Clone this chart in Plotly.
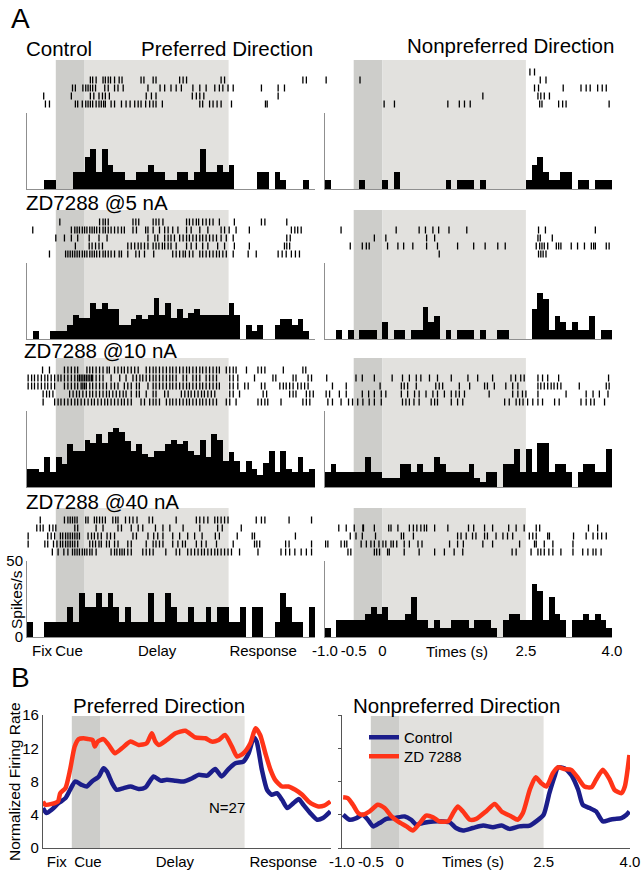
import plotly.graph_objects as go

W, H = 643, 872
FONT = "Liberation Sans, Arial, sans-serif"


def px(x):
    return x / W


def py(y):
    return 1 - y / H


# ---------------- DATA ----------------
# histogram bins: 50 bins of 0.1 s from -1.0 to 4.0 s (spikes/s)
BIN_START, BIN_W, N_BINS = -1.0, 0.1, 50

H_ctrl_pref = [0, 0, 0, 6, 6, 0, 0, 0, 11, 11, 21, 26, 11, 26, 16, 11, 11, 6, 6, 11,
               11, 16, 11, 11, 6, 6, 11, 11, 6, 11, 26, 11, 11, 16, 11, 16, 0, 0, 0, 0,
               11, 11, 0, 11, 6, 0, 0, 0, 6, 0]
H_ctrl_non = [6, 0, 0, 0, 0, 0, 6, 0, 0, 0, 6, 0, 11, 0, 0, 0, 0, 0, 0, 0,
              0, 6, 0, 6, 6, 6, 0, 6, 0, 0, 0, 0, 0, 0, 0, 6, 16, 21, 11, 6,
              6, 11, 11, 0, 6, 6, 0, 6, 6, 6]
H_5_pref = [0, 5, 0, 0, 5, 5, 5, 9, 16, 14, 14, 24, 20, 24, 20, 20, 9, 9, 13, 16,
            13, 16, 27, 16, 24, 14, 20, 14, 17, 20, 16, 16, 16, 16, 16, 24, 16, 0, 9, 5,
            9, 0, 0, 9, 13, 13, 9, 13, 5, 0]
H_5_non = [0, 0, 6, 0, 6, 0, 6, 6, 6, 0, 11, 0, 6, 6, 0, 6, 6, 21, 11, 15,
           0, 6, 0, 6, 6, 6, 0, 6, 0, 0, 6, 6, 0, 0, 0, 0, 20, 30, 26, 6,
           15, 11, 6, 11, 6, 6, 15, 0, 6, 6]
H_10_pref = [12, 12, 10, 20, 10, 20, 15, 28, 24, 24, 31, 29, 35, 29, 36, 39, 36, 30, 24, 28,
             22, 20, 24, 24, 28, 31, 28, 30, 24, 21, 31, 20, 35, 31, 17, 23, 17, 10, 17, 12,
             8, 16, 24, 10, 24, 12, 10, 20, 10, 12]
H_10_non = [10, 15, 10, 10, 10, 10, 10, 20, 10, 10, 6, 6, 6, 15, 15, 10, 15, 10, 10, 20,
            15, 10, 10, 10, 10, 15, 6, 3, 10, 10, 0, 15, 15, 25, 10, 25, 10, 29, 29, 10,
            15, 15, 10, 0, 10, 15, 15, 10, 10, 25]
H_40_pref = [10, 0, 0, 10, 10, 10, 10, 20, 10, 29, 20, 20, 29, 20, 29, 20, 10, 20, 10, 10,
             10, 29, 10, 10, 29, 20, 10, 10, 20, 10, 10, 20, 10, 20, 20, 10, 10, 20, 0, 20,
             20, 0, 0, 10, 29, 20, 10, 10, 0, 20]
H_40_non = [6, 0, 11, 11, 11, 11, 11, 15, 20, 15, 20, 11, 11, 11, 15, 26, 11, 11, 6, 11,
            6, 6, 11, 11, 11, 6, 11, 11, 11, 6, 0, 11, 15, 15, 11, 11, 35, 30, 11, 26,
            15, 11, 0, 11, 11, 15, 11, 15, 11, 6]

# raster spike times (s), one list per trial (top to bottom)
R_ctrl_pref = [
    [],
    [0.10, 0.14, 0.20, 0.32, 0.36, 0.41, 0.45, 0.52, 0.60, 0.65, 0.98, 1.03, 1.19, 1.24, 1.65, 1.71, 1.77,
     2.37, 2.43, 3.79, 3.85],
    [-0.21, -0.16, -0.03, 0.02, 0.06, 0.10, 0.14, 0.19, 0.35, 0.41, 0.52, 0.58, 0.67, 1.10, 1.31, 1.39, 1.50,
     1.59, 1.68, 1.88, 2.00, 2.11, 2.26, 2.34, 2.40, 2.49, 2.58, 3.07, 3.36, 3.47],
    [-0.71, -0.23, 0.10, 0.16, 0.25, 0.31, 0.36, 0.43, 1.07, 1.16, 1.24, 1.87, 1.94, 2.00, 2.07, 3.36],
    [-0.68, -0.61, -0.16, -0.12, -0.04, 0.02, 0.06, 0.10, 0.14, 0.20, 0.25, 0.29, 0.33, 0.36, 0.46, 0.52,
     0.64, 0.72, 0.79, 0.87, 0.93, 0.98, 1.06, 1.13, 1.19, 1.24, 1.35, 2.00, 2.05, 2.17, 2.23, 2.30, 2.37,
     2.55, 3.14, 3.17],
]
R_ctrl_non = [
    [2.57, 2.65],
    [-0.98, -0.39, 2.75, 2.85],
    [2.65, 2.72, 3.15, 3.46, 3.55, 3.62, 3.75, 3.83, 3.90],
    [1.75, 2.71, 2.76, 2.82, 2.91],
    [0.03, 0.21, 1.14, 1.34, 1.43, 1.53, 2.74, 2.78, 3.07, 3.14, 3.20, 3.95],
]
R_5_pref = [
    [-0.43, 0.26, 0.32, 0.36, 0.41, 0.84, 0.89, 0.94, 1.19, 1.24, 1.29, 1.36, 1.77, 1.82, 1.88, 1.94, 1.98,
     2.05, 2.11, 2.17, 2.23, 2.34, 2.60, 3.07, 3.13, 3.51],
    [-0.90, -0.23, -0.17, -0.13, -0.09, -0.04, 0.00, 0.04, 0.09, 0.13, 0.17, 0.21, 0.26, 0.32, 0.36, 0.41,
     0.46, 0.52, 0.58, 0.64, 0.69, 0.84, 0.90, 1.06, 1.10, 1.19, 1.30, 1.39, 1.45, 1.53, 1.62, 1.77, 1.85,
     2.00, 2.14, 2.37, 2.43, 2.51, 2.63, 2.86, 3.59, 3.65, 3.70, 3.76],
    [-0.50, -0.35, -0.23, -0.12, 0.08, 0.25, 0.39, 1.10, 1.22, 1.27, 1.39, 1.45, 1.50, 1.56, 1.65, 1.71,
     1.77, 1.82, 1.88, 1.94, 2.00, 2.05, 2.11, 2.17, 2.23, 2.29, 2.37, 2.46, 2.58, 3.51, 3.57],
    [-0.16, 0.08, 0.13, 0.19, 0.25, 0.31, 0.75, 0.81, 0.87, 0.93, 0.98, 1.04, 1.10, 1.19, 1.24, 1.29, 1.35,
     1.39, 1.45, 1.50, 1.59, 1.77, 1.85, 1.94, 2.05, 2.14, 2.31, 2.43, 2.60, 2.86, 3.47, 3.51, 3.56],
    [-0.61, -0.33, -0.29, -0.25, -0.21, -0.17, -0.13, -0.09, -0.04, 0.00, 0.04, 0.09, 0.13, 0.17, 0.21,
     0.26, 0.32, 0.36, 0.41, 0.46, 0.52, 0.60, 0.64, 0.75, 0.89, 0.95, 1.04, 1.20, 1.53, 1.59, 1.65, 1.71,
     1.75, 1.82, 1.88, 2.00, 2.05, 2.11, 2.17, 2.23, 2.29, 2.34, 2.40, 2.46, 2.58, 2.84, 2.98, 3.36, 3.43,
     3.50, 3.59, 3.66, 3.73],
]
R_5_non = [
    [],
    [-0.72, 0.24, 0.64, 0.75, 0.88, 0.98, 1.16, 1.47, 2.72, 2.84, 3.71],
    [-0.14, 0.06, 0.77, 0.91, 2.71, 2.75, 2.96],
    [-0.56, -0.35, -0.28, -0.23, 0.09, 0.27, 0.37, 0.53, 0.77, 0.96, 1.31, 1.59, 1.79, 2.01, 2.14, 2.68,
     2.74, 2.78, 2.82, 2.88, 3.03, 3.07, 3.11, 3.29, 3.40, 3.52, 3.64, 3.68, 3.71, 3.90, 3.95],
    [0.99, 2.72, 2.76, 2.80, 2.85],
]
R_10_pref = [
    [-0.73, -0.61, -0.35, -0.29, -0.23, -0.17, -0.12, 0.04, 0.09, 0.14, 0.20, 0.26, 0.32, 0.39, 0.43, 0.52,
     0.58, 0.64, 0.69, 0.75, 0.81, 0.87, 0.93, 1.07, 1.13, 1.19, 1.24, 1.30, 1.36, 1.42, 1.48, 1.53, 1.59,
     1.65, 1.71, 1.77, 1.82, 1.88, 1.94, 2.00, 2.05, 2.11, 2.17, 2.23, 2.29, 2.34, 2.46, 2.52, 2.58, 2.63,
     2.81, 3.01, 3.07, 3.13, 3.45, 3.79, 3.84],
    [-0.98, -0.92, -0.87, -0.81, -0.75, -0.69, -0.64, -0.58, -0.52, -0.46, -0.41, -0.35, -0.29, -0.23,
     -0.17, -0.12, -0.09, -0.06, -0.03, 0.00, 0.03, 0.06, 0.09, 0.12, 0.14, 0.20, 0.26, 0.32, 0.46, 0.61,
     0.72, 0.84, 0.90, 0.96, 1.01, 1.07, 1.13, 1.19, 1.24, 1.30, 1.36, 1.42, 1.48, 1.53, 1.59, 1.71, 1.77,
     1.88, 1.94, 2.00, 2.11, 2.17, 2.23, 2.29, 2.52, 2.58, 2.66, 2.95, 3.27, 3.32, 3.62, 3.67, 3.88, 3.94],
    [-0.98, -0.92, -0.87, -0.81, -0.75, -0.69, -0.64, -0.58, -0.52, -0.35, -0.29, -0.23, -0.17, -0.12,
     -0.06, -0.03, 0.00, 0.03, 0.09, 0.14, 0.20, 0.26, 0.32, 0.38, 0.46, 0.52, 0.58, 0.69, 0.75, 0.81, 0.90,
     0.95, 1.10, 1.19, 1.24, 1.30, 1.36, 1.42, 1.48, 1.53, 1.59, 1.65, 1.71, 1.77, 1.82, 1.88, 1.94, 2.00,
     2.05, 2.11, 2.17, 2.23, 2.29, 2.34, 2.52, 2.58, 2.66, 2.78, 2.84, 3.07, 3.13, 3.39, 3.45, 3.50, 3.56,
     3.62, 3.70, 3.76, 3.82, 3.88],
    [-0.72, -0.66, -0.61, -0.55, -0.26, -0.20, -0.14, -0.09, -0.03, 0.03, 0.09, 0.14, 0.20, 0.26, 0.32,
     0.38, 0.43, 0.49, 0.55, 0.61, 0.67, 0.72, 0.81, 0.90, 0.95, 1.07, 1.19, 1.24, 1.39, 1.45, 1.68, 1.74,
     1.80, 1.85, 1.91, 1.97, 2.03, 2.08, 2.14, 2.20, 2.26, 2.52, 2.58, 2.69, 3.10, 3.16, 3.56, 3.62, 3.67,
     3.85, 3.91, 3.97],
    [-0.72, -0.52, -0.46, -0.41, -0.35, -0.29, -0.23, -0.17, -0.12, -0.06, 0.00, 0.06, 0.12, 0.17, 0.23,
     0.29, 0.35, 0.40, 0.46, 0.52, 0.58, 0.64, 0.69, 0.75, 0.81, 0.98, 1.04, 1.13, 1.19, 1.24, 1.30, 1.42,
     1.48, 1.53, 1.59, 1.65, 1.71, 1.77, 1.82, 1.88, 1.94, 2.00, 2.05, 2.11, 2.17, 2.23, 2.29, 2.46, 2.52,
     2.63, 3.01, 3.07, 3.13, 3.18, 3.41, 3.79, 3.85, 3.91],
]
R_10_non = [
    [],
    [-0.97, -0.46, -0.35, -0.14, 0.17, 0.35, 0.47, 0.59, 0.67, 0.82, 0.96, 1.20, 1.49, 1.66, 1.92, 2.24,
     2.32, 2.41, 2.47, 2.71, 2.79, 2.88, 3.07, 3.94],
    [-0.87, -0.63, -0.04, 0.33, 0.38, 0.44, 0.59, 0.93, 0.99, 1.05, 1.34, 1.52, 1.78, 1.83, 1.95, 2.15,
     2.27, 2.36, 2.71, 2.76, 2.82, 2.88, 2.94, 2.99, 3.05, 3.11, 3.43, 3.90, 3.95],
    [-0.98, -0.92, -0.75, -0.63, -0.35, -0.24, -0.14, -0.02, 0.06, 0.33, 0.44, 0.56, 0.64, 0.76, 0.88,
     0.96, 1.08, 1.20, 1.28, 1.34, 1.43, 1.86, 2.27, 2.36, 2.44, 2.50, 2.71, 3.20, 3.55, 3.67, 3.78, 3.93],
    [-0.95, -0.87, -0.72, -0.59, -0.52, -0.43, -0.34, -0.23, -0.14, -0.02, 0.35, 0.41, 0.47, 0.55, 0.64,
     0.85, 0.91, 0.96, 1.20, 1.31, 1.40, 2.13, 2.21, 2.33, 2.39, 2.45, 2.53, 2.62, 2.71, 2.79, 3.00, 3.08,
     3.46, 3.55, 3.63, 3.69, 3.87],
]
R_40_pref = [
    [-0.77, -0.35, -0.29, -0.25, -0.21, -0.17, -0.13, 0.02, 0.06, 0.17, 0.21, 0.26, 0.31, 0.36, 0.49, 0.54,
     0.58, 0.71, 0.78, 0.84, 0.91, 1.12, 1.18, 1.59, 1.94, 2.00, 2.07, 2.14, 2.26, 2.31, 2.37, 2.43, 2.49,
     2.98, 3.07, 3.13, 3.55, 3.94],
    [-0.83, -0.77, -0.72, -0.61, -0.55, -0.50, -0.17, -0.12, 0.20, 0.32, 0.58, 0.64, 0.81, 0.93, 1.01,
     1.23, 1.36, 1.48, 1.71, 2.00, 2.31, 2.39, 2.72],
    [-0.98, -0.64, -0.58, -0.52, -0.42, -0.38, -0.33, -0.29, -0.25, -0.21, -0.17, -0.13, -0.09, 0.06, 0.12,
     0.17, 0.23, 0.29, 0.39, 0.45, 0.52, 0.84, 0.90, 1.10, 1.20, 1.27, 1.36, 1.53, 1.65, 1.79, 1.91, 2.04,
     2.27, 2.34, 2.65, 2.91, 2.95, 3.66],
    [-0.98, -0.69, -0.64, -0.54, -0.48, -0.42, -0.38, -0.33, -0.29, -0.25, -0.21, -0.17, -0.12, 0.09, 0.14,
     0.19, 0.25, 0.29, 0.38, 0.43, 0.52, 0.58, 0.75, 0.81, 1.07, 1.19, 1.24, 1.30, 1.36, 1.53, 1.62, 1.70,
     1.75, 1.94, 2.03, 2.11, 2.29, 2.58, 2.95, 2.99, 3.04, 3.49, 3.55, 3.94],
    [-0.56, -0.46, -0.36, -0.29, -0.21, -0.17, -0.13, -0.09, -0.04, 0.00, 0.04, 0.09, 0.13, 0.20, 0.46,
     0.52, 0.56, 0.61, 0.65, 0.69, 0.75, 0.81, 1.01, 1.07, 1.13, 1.19, 1.41, 1.59, 1.65, 1.79, 1.85, 1.91,
     1.97, 2.03, 2.08, 2.14, 2.20, 2.26, 2.31, 2.37, 2.43, 2.49, 2.55, 2.69, 3.01, 3.41, 3.49, 3.56, 3.65,
     3.76, 3.85, 3.94],
]
R_40_non = [
    [],
    [-0.76, -0.63, -0.49, -0.34, -0.33, -0.14, 0.11, 0.15, 0.27, 0.47, 0.54, 0.60, 0.67, 0.73, 0.77, 0.91,
     1.14, 1.50, 1.59, 1.78, 1.92, 2.20, 2.33, 2.47, 2.68, 2.74, 3.59, 3.75],
    [-0.56, -0.46, -0.35, -0.12, 0.33, 0.37, 0.54, 1.31, 1.37, 1.46, 1.57, 1.63, 1.78, 1.83, 1.98, 2.10,
     2.18, 2.27, 2.56, 2.62, 2.68, 2.88, 2.91, 3.33, 3.55, 3.67, 3.75, 3.82, 3.90],
    [-0.99, -0.95, -0.72, -0.66, -0.62, -0.37, -0.28, -0.20, -0.14, -0.06, 0.01, 0.06, 0.15, 0.19, 0.25,
     0.38, 0.47, 0.62, 0.69, 1.17, 1.31, 1.41, 1.75, 1.92, 2.39, 2.65, 2.68, 2.82, 2.97, 3.32],
    [-0.60, -0.55, -0.14, -0.10, -0.05, 0.09, 0.12, 0.38, 0.64, 0.91, 1.08, 1.25, 1.40, 2.26, 2.33, 2.59,
     2.71, 2.76, 2.82, 2.90, 2.97, 3.11, 3.32, 3.49, 3.58, 3.67, 3.72, 3.81],
]

# Panel B population curves (time in s, normalized firing rate)
B_pref_ctrl_t = [-1.0, -0.94, -0.85, -0.73, -0.61, -0.53, -0.44, -0.33, -0.24, -0.15, -0.03, 0.05, 0.11,
                 0.20, 0.28, 0.40, 0.52, 0.66, 0.78, 0.92, 1.04, 1.15, 1.30, 1.44, 1.59, 1.70, 1.85, 1.99,
                 2.10, 2.22, 2.34, 2.48, 2.57, 2.66, 2.71, 2.80, 2.89, 2.97, 3.06, 3.15, 3.24, 3.35, 3.44,
                 3.52, 3.64, 3.76, 3.86, 3.99]
B_pref_ctrl_v = [4.8, 4.2, 4.6, 5.4, 6.0, 7.0, 8.0, 7.6, 7.4, 8.0, 8.6, 9.6, 9.2, 7.8, 7.0, 7.2, 7.4, 7.1,
                 7.3, 8.6, 8.1, 8.2, 8.1, 8.0, 8.4, 8.8, 8.7, 9.5, 8.6, 9.5, 10.2, 10.4, 11.4, 13.3, 12.8,
                 9.4, 7.0, 6.4, 6.6, 5.8, 4.8, 5.4, 5.9, 5.2, 4.2, 3.4, 3.6, 4.4]
B_pref_zd_t = [-1.0, -0.96, -0.85, -0.74, -0.70, -0.61, -0.53, -0.45, -0.38, -0.30, -0.21, -0.14, -0.10,
               -0.05, 0.05, 0.14, 0.25, 0.37, 0.52, 0.66, 0.80, 0.89, 0.95, 1.01, 1.15, 1.30, 1.47, 1.64,
               1.82, 1.93, 2.05, 2.16, 2.28, 2.37, 2.48, 2.60, 2.69, 2.77, 2.86, 2.95, 3.03, 3.15, 3.26,
               3.38, 3.50, 3.61, 3.70, 3.78, 3.88, 3.99]
B_pref_zd_v = [5.6, 5.2, 5.3, 5.6, 6.6, 7.2, 9.4, 12.2, 13.1, 13.2, 13.1, 13.0, 12.2, 12.8, 13.1, 12.4,
               11.4, 12.0, 12.8, 12.4, 12.6, 13.8, 12.8, 12.4, 13.0, 13.8, 14.1, 13.3, 13.2, 12.8, 13.0,
               13.6, 12.2, 11.0, 11.4, 12.6, 14.4, 13.6, 11.4, 9.4, 8.2, 7.4, 7.4, 7.0, 6.4, 5.6, 5.2,
               5.0, 5.1, 5.6]
B_non_ctrl_t = [-0.98, -0.87, -0.75, -0.64, -0.55, -0.46, -0.35, -0.23, -0.09, 0.09, 0.20, 0.29, 0.40,
                0.58, 0.75, 0.87, 0.98, 1.10, 1.27, 1.45, 1.62, 1.77, 1.91, 2.08, 2.26, 2.37, 2.50, 2.60,
                2.69, 2.75, 2.86, 2.98, 3.10, 3.18, 3.30, 3.41, 3.53, 3.65, 3.73, 3.85, 3.94, 3.99]
B_non_ctrl_v = [4.0, 3.4, 3.6, 4.0, 3.4, 2.6, 3.0, 3.5, 3.6, 3.8, 3.4, 2.8, 3.0, 3.2, 3.2, 3.1, 2.4, 2.1,
                2.4, 2.7, 2.5, 2.7, 2.3, 2.6, 2.7, 3.2, 4.0, 6.6, 8.6, 9.7, 9.6, 8.8, 7.0, 5.2, 4.8, 4.4,
                3.2, 3.4, 3.5, 3.6, 4.0, 4.4]
B_non_zd_t = [-0.98, -0.90, -0.81, -0.72, -0.64, -0.52, -0.38, -0.26, -0.14, -0.03, 0.12, 0.23, 0.35,
              0.46, 0.58, 0.69, 0.84, 0.93, 1.01, 1.10, 1.22, 1.33, 1.50, 1.65, 1.77, 1.94, 2.05, 2.14,
              2.26, 2.36, 2.46, 2.55, 2.66, 2.75, 2.86, 2.98, 3.10, 3.21, 3.33, 3.41, 3.53, 3.65, 3.73,
              3.85, 3.91, 3.99]
B_non_zd_v = [6.1, 6.0, 5.2, 4.2, 4.0, 4.4, 5.2, 4.8, 3.8, 3.2, 2.6, 2.1, 3.0, 3.9, 3.7, 3.2, 3.2, 4.2,
              5.0, 4.4, 3.4, 3.5, 4.4, 5.3, 4.4, 3.8, 3.4, 4.2, 7.0, 8.5, 7.8, 7.4, 9.0, 9.7, 9.5, 9.4,
              8.4, 7.4, 7.3, 8.2, 9.4, 8.2, 7.0, 6.6, 7.4, 11.2]

ROW_LABELS = ["Control", "ZD7288 @5 nA", "ZD7288 @10 nA", "ZD7288 @40 nA"]
A_EPOCH_TICKS = [-0.74, -0.27, 1.26, 3.10]
B_EPOCH_TICKS = [-0.76, -0.22, 1.29, 3.17]
EPOCH_LABELS = ["Fix", "Cue", "Delay", "Response"]
TIME_TICKS = [-1.0, -0.5, 0.0, 2.5, 4.0]
TIME_LABELS = ["-1.0", "-0.5", "0", "2.5", "4.0"]
CUE = (-0.5, 0.0)
DELAY = (0.0, 2.5)

# ---------------- FIGURE ----------------
DARK = "#cdcdca"
LIGHT = "#e2e1de"
AXC = "#8f8f8f"
BLUE = "#1b1d8a"
RED = "#ff3418"

bin_centers = [BIN_START + BIN_W * (k + 0.5) for k in range(N_BINS)]

fig = go.Figure()
layout = dict(
    width=W, height=H, margin=dict(l=0, r=0, t=0, b=0, autoexpand=False),
    paper_bgcolor="white", plot_bgcolor="rgba(0,0,0,0)",
    font=dict(family=FONT, color="black", size=15),
    shapes=[], annotations=[], bargap=0,
)


def sfx(n):
    return "" if n == 1 else str(n)


cells = [
    (H_ctrl_pref, R_ctrl_pref, "L", 189),
    (H_ctrl_non, R_ctrl_non, "R", 189),
    (H_5_pref, R_5_pref, "L", 339),
    (H_5_non, R_5_non, "R", 339),
    (H_10_pref, R_10_pref, "L", 487),
    (H_10_non, R_10_non, "R", 487),
    (H_40_pref, R_40_pref, "L", 637),
    (H_40_non, R_40_non, "R", 637),
]
COLX = {"L": (27, 315), "R": (325, 612)}

for i, (hist, raster, col, base) in enumerate(cells):
    nh, nr = 2 * i + 1, 2 * i + 2
    xd = [px(COLX[col][0]), px(COLX[col][1])]
    bottom_row = i >= 6
    # histogram
    fig.add_trace(go.Bar(x=bin_centers, y=hist, width=BIN_W, marker=dict(color="black", line=dict(width=0)),
                         xaxis="x" + sfx(nh), yaxis="y" + sfx(nh), showlegend=False, hoverinfo="skip"))
    xa = dict(domain=xd, range=[-1.0, 4.0], anchor="y" + sfx(nh), showline=True, linecolor=AXC, linewidth=1,
              showgrid=False, zeroline=False, ticks="", showticklabels=False, automargin=False, tickangle=0)
    if bottom_row and col == "L":
        xa.update(showticklabels=True, tickvals=A_EPOCH_TICKS, ticktext=EPOCH_LABELS, tickfont=dict(size=15))
    if bottom_row and col == "R":
        xa.update(showticklabels=True, tickvals=TIME_TICKS, ticktext=TIME_LABELS, tickfont=dict(size=15))
    ya = dict(domain=[py(base), py(base - 76)], range=[0, 50], anchor="x" + sfx(nh), showline=True,
              linecolor=AXC, linewidth=1, showgrid=False, zeroline=False, ticks="inside", ticklen=12,
              tickcolor=AXC, tickvals=[50], showticklabels=False, automargin=False)
    if bottom_row and col == "L":
        ya.update(tickvals=[0, 50], ticktext=["0", "50"], showticklabels=True, tickfont=dict(size=15))
    layout["xaxis" + sfx(nh)] = xa
    layout["yaxis" + sfx(nh)] = ya
    # raster
    rx, ry = [], []
    for j, trial in enumerate(raster):
        rx += trial
        ry += [j + 1] * len(trial)
    fig.add_trace(go.Scatter(x=rx, y=ry, mode="markers", xaxis="x" + sfx(nr), yaxis="y" + sfx(nr),
                             marker=dict(symbol="line-ns", size=5, line=dict(width=1.3, color="black")),
                             showlegend=False, hoverinfo="skip"))
    layout["xaxis" + sfx(nr)] = dict(domain=xd, range=[-1.0, 4.0], anchor="y" + sfx(nr), visible=False,
                                     automargin=False)
    layout["yaxis" + sfx(nr)] = dict(domain=[py(base - 80), py(base - 126)], range=[5.625, -0.125],
                                     anchor="x" + sfx(nr), visible=False, automargin=False)
    # task epoch shading
    for (x0, x1), c in ((CUE, DARK), (DELAY, LIGHT)):
        layout["shapes"].append(dict(type="rect", xref="x" + sfx(nh), yref="paper", x0=x0, x1=x1,
                                     y0=py(base), y1=py(base - 129), fillcolor=c, line=dict(width=0),
                                     layer="below"))

# ---- Panel B ----
B_AX = {17: (43, 331), 18: (342, 630)}
B_TOP, B_BOT = 715, 848
curves = {
    17: [(B_pref_ctrl_t, B_pref_ctrl_v, BLUE, "Control"), (B_pref_zd_t, B_pref_zd_v, RED, "ZD 7288")],
    18: [(B_non_ctrl_t, B_non_ctrl_v, BLUE, "Control"), (B_non_zd_t, B_non_zd_v, RED, "ZD 7288")],
}
for n, (xl, xr) in B_AX.items():
    for k, (t, v, c, name) in enumerate(curves[n]):
        fig.add_trace(go.Scatter(x=t, y=v, mode="lines", name=name, xaxis="x" + str(n), yaxis="y" + str(n),
                                 line=dict(color=c, width=4.5, shape="spline", smoothing=0.6),
                                 showlegend=(n == 18), legend=("legend" if k == 0 else "legend2"),
                                 hoverinfo="skip", cliponaxis=False))
    xa = dict(domain=[px(xl), px(xr)], range=[-1.0, 4.0], anchor="y" + str(n), showline=True,
              linecolor="#555555", linewidth=1.2, showgrid=False, zeroline=False, ticks="",
              tickfont=dict(size=15), automargin=False, tickangle=0)
    ya = dict(domain=[py(B_BOT), py(B_TOP)], range=[0, 16], anchor="x" + str(n), showline=True,
              linecolor="#555555", linewidth=1.2, showgrid=False, zeroline=False, tickvals=[0, 4, 8, 12, 16],
              automargin=False)
    if n == 17:
        xa.update(tickvals=B_EPOCH_TICKS, ticktext=EPOCH_LABELS)
        ya.update(ticks="", tickfont=dict(size=15))
    else:
        xa.update(tickvals=TIME_TICKS, ticktext=TIME_LABELS)
        ya.update(ticks="outside", ticklen=3, tickcolor="#555555", showticklabels=False)
    layout["xaxis" + str(n)] = xa
    layout["yaxis" + str(n)] = ya
    for (x0, x1), c in ((CUE, DARK), (DELAY, LIGHT)):
        layout["shapes"].append(dict(type="rect", xref="x" + str(n), yref="paper", x0=x0, x1=x1,
                                     y0=py(B_BOT), y1=py(B_TOP + 1), fillcolor=c, line=dict(width=0),
                                     layer="below"))

leg_common = dict(xanchor="left", yanchor="top", bgcolor="rgba(0,0,0,0)", font=dict(size=15),
                  tracegroupgap=0, itemwidth=30)
layout["legend"] = dict(x=px(364), y=py(721), **leg_common)
layout["legend2"] = dict(x=px(364), y=py(740), **leg_common)


def ann(text, x, y, size, xanchor="left", angle=0):
    layout["annotations"].append(dict(text=text, x=px(x), y=py(y), xref="paper", yref="paper",
                                      xanchor=xanchor, yanchor="middle", showarrow=False,
                                      textangle=angle, font=dict(size=size, family=FONT, color="black")))


ann("A", 9, 18, 28)
ann("B", 9, 677, 28)
ann(ROW_LABELS[0], 24, 49, 20.5)
ann("Preferred Direction", 139, 49, 20.5)
ann("Nonpreferred Direction", 405, 45, 20.5)
ann(ROW_LABELS[1], 24, 202, 20.5)
ann(ROW_LABELS[2], 22, 350, 20.5)
ann(ROW_LABELS[3], 24, 501, 20.5)
ann("Spikes/s", 16, 600, 15.5, xanchor="center", angle=-90)
ann("Times (s)", 457, 651, 15, xanchor="center")
ann("Preferred Direction", 71, 705, 20.5)
ann("Nonpreferred Direction", 351, 705, 20.5)
ann("Normalized Firing Rate", 14, 782, 15.5, xanchor="center", angle=-90)
ann("N=27", 207, 807, 15)
ann("Times (s)", 473, 861, 15, xanchor="center")

fig.update_layout(**layout)
fig.write_html("out.html")
